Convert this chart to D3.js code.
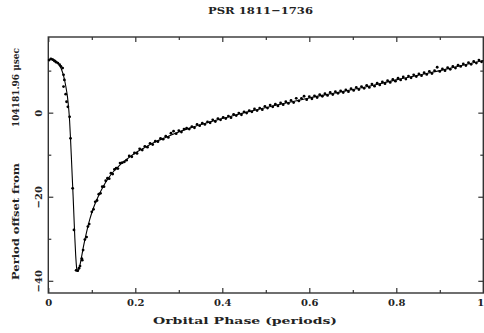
<!DOCTYPE html>
<html>
<head>
    <meta charset="utf-8">
    <title>PSR 1811-1736</title>
    <script src="https://d3js.org/d3.v7.min.js"></script>
    <style>
        body {
            margin: 0;
            background: #fff;
        }

        text {
            font-family: "DejaVu Serif", serif;
            font-weight: bold;
            fill: #222;
        }

        .tick line {
            stroke: #333;
            stroke-width: 1.2;
        }

        .tick text {
            font-size: 10px;
        }
    </style>
</head>
<body>
    <div id="chart"></div>

    <script>
        // fitted orbit model
        const curvePoints = [
            [0.000, 12.5], [0.008, 12.8], [0.016, 12.4], [0.024, 11.6], [0.030, 10.4],
            [0.035, 8.8], [0.040, 6.4], [0.044, 3.8], [0.047, 0.8], [0.049, -2.0],
            [0.051, -6.0], [0.053, -10.5], [0.055, -15.2], [0.057, -19.8], [0.059, -24.8],
            [0.061, -29.8], [0.063, -34.0], [0.065, -36.8], [0.067, -37.8], [0.069, -37.6],
            [0.072, -36.6], [0.076, -34.6], [0.080, -32.3], [0.085, -29.8], [0.090, -27.5],
            [0.095, -25.5], [0.100, -23.8], [0.107, -21.8], [0.115, -19.9], [0.125, -17.8],
            [0.138, -15.6], [0.150, -14.0], [0.165, -12.4], [0.180, -11.1], [0.200, -9.6],
            [0.220, -8.4], [0.245, -7.0], [0.270, -5.9], [0.300, -4.6], [0.330, -3.5],
            [0.365, -2.4], [0.400, -1.4], [0.440, -0.3], [0.480, 0.7], [0.520, 1.7],
            [0.560, 2.6], [0.600, 3.5], [0.650, 4.5], [0.700, 5.5], [0.750, 6.6],
            [0.800, 7.8], [0.850, 8.9], [0.900, 10.0], [0.950, 11.2], [1.000, 12.4]
        ];

        // measured period offsets (phase, usec)
        const measurements = [
            [0.002, 12.5], [0.006, 12.8], [0.010, 12.6], [0.014, 12.3], [0.018, 12.0],
            [0.022, 11.8], [0.026, 11.4], [0.029, 11.0], [0.033, 10.6], [0.035, 9.0],
            [0.037, 7.8], [0.035, 6.2], [0.040, 4.4], [0.042, 2.6], [0.045, 1.4],
            [0.049, -1.0], [0.051, -6.1], [0.056, -18.0], [0.059, -27.9],
            [0.064, -37.5], [0.0676, -37.6], [0.0706, -37.0], [0.0729, -36.5], [0.077, -34.7],
            [0.078, -35.1], [0.080, -32.7], [0.084, -30.2], [0.088, -29.6], [0.091, -27.1],
            [0.094, -26.5], [0.100, -23.6], [0.104, -23.0], [0.108, -21.2], [0.112, -20.9],
            [0.116, -19.4], [0.120, -19.2], [0.124, -17.6], [0.128, -17.6], [0.132, -16.2],
            [0.136, -15.6], [0.140, -15.7], [0.144, -14.4], [0.148, -14.6], [0.152, -13.5],
            [0.156, -13.2], [0.160, -13.3], [0.165, -12.0], [0.170, -11.9], [0.175, -11.7],
            [0.180, -11.3], [0.186, -10.3], [0.192, -10.5], [0.198, -9.6], [0.204, -9.7],
            [0.210, -8.6], [0.216, -8.9], [0.222, -8.0], [0.228, -8.2], [0.234, -7.3],
            [0.240, -7.6], [0.246, -6.8], [0.252, -6.9], [0.258, -6.1], [0.264, -6.3],
            [0.270, -5.6], [0.276, -5.9], [0.282, -4.9], [0.288, -4.4], [0.294, -5.0],
            [0.300, -4.3], [0.306, -4.6], [0.312, -3.9], [0.318, -3.7], [0.324, -3.9],
            [0.330, -3.3], [0.336, -3.6], [0.342, -2.8], [0.348, -3.1], [0.354, -2.5],
            [0.360, -2.8], [0.366, -2.2], [0.372, -2.4], [0.378, -1.7], [0.384, -2.1],
            [0.390, -1.4], [0.396, -1.7], [0.402, -1.1], [0.408, -1.4], [0.414, -0.8],
            [0.420, -1.2], [0.426, -0.4], [0.432, -0.7], [0.438, -0.1], [0.444, -0.5],
            [0.450, 0.2], [0.456, -0.1], [0.462, 0.5], [0.468, 0.2], [0.474, 0.9],
            [0.480, 0.5], [0.486, 1.1], [0.492, 0.7], [0.498, 1.5], [0.504, 1.1],
            [0.510, 1.8], [0.516, 1.4], [0.522, 2.0], [0.528, 1.6], [0.534, 2.3],
            [0.540, 1.9], [0.546, 2.6], [0.552, 2.2], [0.558, 2.9], [0.564, 2.4],
            [0.570, 3.4], [0.576, 2.8], [0.582, 3.4], [0.588, 3.9], [0.594, 3.1],
            [0.600, 3.8], [0.606, 3.3], [0.612, 4.0], [0.618, 3.6], [0.624, 4.3],
            [0.630, 3.9], [0.636, 4.5], [0.642, 4.1], [0.648, 4.8], [0.654, 4.3],
            [0.660, 5.0], [0.666, 4.6], [0.672, 5.2], [0.678, 4.8], [0.684, 5.4],
            [0.690, 5.0], [0.696, 5.7], [0.702, 5.3], [0.708, 6.0], [0.714, 5.5],
            [0.720, 6.2], [0.726, 5.8], [0.732, 6.5], [0.738, 6.0], [0.744, 6.8],
            [0.750, 6.3], [0.756, 7.0], [0.762, 6.6], [0.768, 7.3], [0.774, 6.9],
            [0.780, 7.6], [0.786, 7.2], [0.792, 7.9], [0.798, 7.5], [0.804, 8.2],
            [0.810, 7.8], [0.816, 8.5], [0.822, 8.0], [0.828, 8.7], [0.834, 8.3],
            [0.840, 9.0], [0.846, 8.6], [0.852, 9.2], [0.858, 8.8], [0.864, 9.5],
            [0.870, 9.1], [0.876, 9.8], [0.882, 9.3], [0.888, 10.0], [0.894, 10.8],
            [0.900, 9.8], [0.906, 10.4], [0.912, 10.0], [0.918, 10.7], [0.924, 10.3],
            [0.930, 11.0], [0.936, 10.6], [0.942, 11.3], [0.948, 11.0], [0.954, 11.6],
            [0.960, 11.2], [0.966, 11.9], [0.972, 11.5], [0.978, 12.2], [0.984, 11.8],
            [0.990, 12.5], [0.996, 12.1]
        ];

        const xMajorTicks = [0, 0.2, 0.4, 0.6, 0.8, 1];
        const xMinorTicks = [0.1, 0.3, 0.5, 0.7, 0.9];
        const xTickLabels = ["0", "0.2", "0.4", "0.6", "0.8", "1"];
        const yMajorTicks = [-40, -20, 0];
        const yMinorTicks = [-30, -10, 10];
        const yTickLabels = ["\u221240", "\u221220", "0"];

        const width = 484;
        const height = 333;
        const margin = {top: 37, right: 0.7, bottom: 40, left: 48.3};

        const svg = d3.select("#chart").append("svg")
            .attr("width", width)
            .attr("height", height);

        const x = d3.scaleLinear()
            .domain([0, 1])
            .range([margin.left, width - margin.right]);

        const y = d3.scaleLinear()
            .domain([-42.9, 18])
            .range([height - margin.bottom, margin.top]);

        // ticks point inward on all four sides
        function drawAxis(axis, ticks, labels, size, transform) {
            const g = svg.append("g")
                .attr("transform", transform)
                .call(axis.tickValues(ticks).tickSize(size).tickFormat((d, i) => labels ? labels[i] : ""));
            g.select(".domain").remove();
            return g;
        }

        const atBottom = "translate(0," + (height - margin.bottom) + ")";
        const atTop = "translate(0," + margin.top + ")";
        const atLeft = "translate(" + margin.left + ",0)";
        const atRight = "translate(" + (width - margin.right) + ",0)";

        const xAxisG = drawAxis(d3.axisBottom(x), xMajorTicks, xTickLabels, -5, atBottom);
        drawAxis(d3.axisBottom(x), xMinorTicks, null, -3, atBottom);
        drawAxis(d3.axisTop(x), xMajorTicks, null, -5, atTop);
        drawAxis(d3.axisTop(x), xMinorTicks, null, -3, atTop);

        const yAxisG = drawAxis(d3.axisLeft(y), yMajorTicks, yTickLabels, -5, atLeft);
        drawAxis(d3.axisLeft(y), yMinorTicks, null, -3, atLeft);
        drawAxis(d3.axisRight(y), yMajorTicks, null, -5, atRight);
        drawAxis(d3.axisRight(y), yMinorTicks, null, -3, atRight);

        xAxisG.selectAll("text")
            .attr("y", 13)
            .attr("dy", 0);

        // the last label sits on the window edge; keep it inside
        xAxisG.selectAll("text")
            .filter(d => d === 1)
            .attr("text-anchor", "end")
            .attr("x", 0.5);

        yAxisG.selectAll("text")
            .attr("x", 0)
            .attr("y", -6)
            .attr("dy", 0)
            .attr("text-anchor", "middle")
            .attr("transform", "rotate(-90)");

        // frame
        svg.append("rect")
            .attr("x", margin.left)
            .attr("y", margin.top)
            .attr("width", width - margin.left - margin.right)
            .attr("height", height - margin.top - margin.bottom)
            .attr("fill", "none")
            .attr("stroke", "#333")
            .attr("stroke-width", 1.4);

        // model curve
        const line = d3.line()
            .x(d => x(d[0]))
            .y(d => y(d[1]))
            .curve(d3.curveMonotoneX);

        svg.append("path")
            .datum(curvePoints)
            .attr("d", line)
            .attr("fill", "none")
            .attr("stroke", "#000")
            .attr("stroke-width", 1.1);

        svg.append("g")
            .selectAll("circle")
            .data(measurements)
            .enter()
            .append("circle")
            .attr("cx", d => x(d[0]))
            .attr("cy", d => y(d[1]))
            .attr("r", 1.4)
            .attr("fill", "#000");

        // titles
        svg.append("text")
            .attr("x", 208)
            .attr("y", 14)
            .attr("textLength", 105)
            .attr("lengthAdjust", "spacingAndGlyphs")
            .style("font-size", "10px")
            .text("PSR 1811\u22121736");

        svg.append("text")
            .attr("x", 153)
            .attr("y", 324)
            .attr("textLength", 184)
            .attr("lengthAdjust", "spacingAndGlyphs")
            .style("font-size", "10px")
            .text("Orbital Phase (periods)");

        svg.append("text")
            .attr("transform", "translate(18.5,280) rotate(-90)")
            .attr("textLength", 117)
            .attr("lengthAdjust", "spacingAndGlyphs")
            .style("font-size", "10px")
            .text("Period offset from");

        svg.append("text")
            .attr("transform", "translate(18.5,127) rotate(-90)")
            .attr("textLength", 79)
            .attr("lengthAdjust", "spacingAndGlyphs")
            .style("font-size", "10px")
            .text("104181.96 \u03bcsec");
    </script>
</body>
</html>
